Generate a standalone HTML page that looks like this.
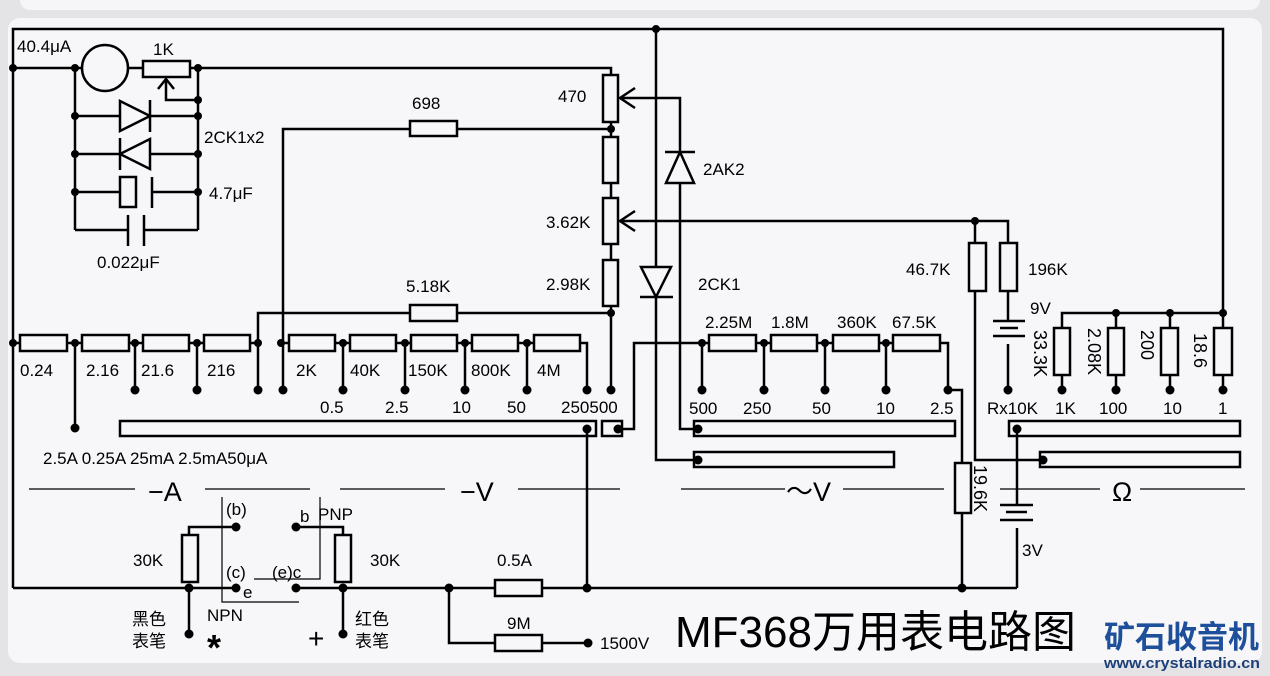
<!DOCTYPE html>
<html><head><meta charset="utf-8"><style>
html,body{margin:0;padding:0;background:#e4e4e6;}
svg{display:block}
text{font-family:"Liberation Sans","Noto Sans CJK SC",sans-serif;font-size:17px;fill:#000}
</style></head><body>
<svg width="1270" height="676" viewBox="0 0 1270 676" xmlns="http://www.w3.org/2000/svg">
<rect x="0" y="0" width="1270" height="676" fill="#e4e4e6"/>
<rect x="20" y="-20" width="1240" height="30" rx="10" fill="#f6f5f7"/>
<rect x="8" y="18" width="1254" height="645" rx="12" fill="#f7f6f8"/>
<g stroke="#000" stroke-width="2.5" fill="none">
<polyline points="13,588 13,29 1223,29 1223,313"/>
<line x1="13" y1="68" x2="82" y2="68"/>
<circle cx="105" cy="68" r="23"/>
<line x1="128" y1="68" x2="143" y2="68"/>
<rect x="143" y="61" width="47" height="16" fill="#f7f6f8"/>
<polyline points="190,68 611,68 611,75"/>
<polyline points="166,80 166,100 198,100"/>
<polyline points="158,89 166,79 174,89"/>
<line x1="75" y1="68" x2="75" y2="230"/>
<line x1="198" y1="68" x2="198" y2="230"/>
<line x1="75" y1="116" x2="120" y2="116"/><line x1="150" y1="116" x2="198" y2="116"/>
<polygon points="120,101 120,131 150,116"/><line x1="150" y1="100" x2="150" y2="132"/>
<line x1="75" y1="154" x2="120" y2="154"/><line x1="150" y1="154" x2="198" y2="154"/>
<polygon points="150,139 150,169 120,154"/><line x1="120" y1="138" x2="120" y2="170"/>
<line x1="75" y1="192" x2="120" y2="192"/><line x1="152" y1="192" x2="198" y2="192"/>
<rect x="120" y="177" width="16" height="30"/><line x1="152" y1="177" x2="152" y2="208"/>
<polyline points="75,230 128,230"/><polyline points="144,230 198,230"/>
<line x1="128" y1="215" x2="128" y2="246"/><line x1="144" y1="215" x2="144" y2="246"/>
<rect x="603" y="75" width="15" height="47" fill="#f7f6f8"/>
<line x1="611" y1="122" x2="611" y2="137"/>
<rect x="603" y="137" width="15" height="46" fill="#f7f6f8"/>
<line x1="611" y1="183" x2="611" y2="198"/>
<rect x="603" y="198" width="15" height="46" fill="#f7f6f8"/>
<line x1="611" y1="244" x2="611" y2="260"/>
<rect x="603" y="260" width="15" height="46" fill="#f7f6f8"/>
<line x1="611" y1="306" x2="611" y2="390"/>
<polyline points="680,152 680,98 620,98"/><polyline points="635,88 620,98 635,108"/>
<polyline points="975,222 975,460 1040,460"/>
<polyline points="620,221 1008,221 1008,243"/><polyline points="635,211 620,221 635,231"/>
<polyline points="283,390 283,129 410,129"/><rect x="410" y="121" width="47" height="15"/><line x1="457" y1="129" x2="611" y2="129"/>
<polyline points="258,390 258,313 410,313"/><rect x="410" y="305" width="47" height="16"/><line x1="457" y1="313" x2="611" y2="313"/>
<polygon points="680,152 666,183 694,183" /><line x1="665" y1="152" x2="695" y2="152"/>
<polyline points="680,183 680,429 695,429"/>
<line x1="656" y1="29" x2="656" y2="267"/>
<polygon points="641,267 671,267 656,297"/><line x1="640" y1="297" x2="673" y2="297"/>
<polyline points="656,297 656,460 695,460"/>
<line x1="13" y1="343" x2="20" y2="343"/>
<rect x="20" y="335" width="47" height="16"/><line x1="67" y1="343" x2="82" y2="343"/>
<rect x="82" y="335" width="47" height="16"/><line x1="129" y1="343" x2="143" y2="343"/>
<rect x="143" y="335" width="46" height="16"/><line x1="189" y1="343" x2="204" y2="343"/>
<rect x="204" y="335" width="46" height="16"/><line x1="250" y1="343" x2="258" y2="343"/>
<line x1="281" y1="343" x2="289" y2="343"/>
<rect x="289" y="335" width="46" height="16"/><line x1="335" y1="343" x2="350" y2="343"/>
<rect x="350" y="335" width="46" height="16"/><line x1="396" y1="343" x2="411" y2="343"/>
<rect x="411" y="335" width="46" height="16"/><line x1="457" y1="343" x2="472" y2="343"/>
<rect x="472" y="335" width="46" height="16"/><line x1="518" y1="343" x2="534" y2="343"/>
<rect x="534" y="335" width="46" height="16"/><polyline points="580,343 587,343 587,390"/>
<line x1="75" y1="343" x2="75" y2="428"/>
<line x1="135" y1="343" x2="135" y2="390"/><line x1="197" y1="343" x2="197" y2="390"/>
<line x1="343" y1="343" x2="343" y2="390"/><line x1="405" y1="343" x2="405" y2="390"/>
<line x1="465" y1="343" x2="465" y2="390"/><line x1="527" y1="343" x2="527" y2="390"/>
<rect x="120" y="421" width="476" height="15"/>
<rect x="602" y="421" width="20" height="15"/>
<polyline points="618,429 634,429 634,343 709,343"/>
<line x1="587" y1="429" x2="587" y2="588"/>
<rect x="709" y="335" width="47" height="16"/><line x1="756" y1="343" x2="771" y2="343"/>
<rect x="771" y="335" width="46" height="16"/><line x1="817" y1="343" x2="833" y2="343"/>
<rect x="833" y="335" width="46" height="16"/><line x1="879" y1="343" x2="893" y2="343"/>
<rect x="893" y="335" width="47" height="16"/><polyline points="940,343 948,343 948,390 962,390 962,463"/>
<line x1="702" y1="343" x2="702" y2="390"/><line x1="764" y1="343" x2="764" y2="390"/>
<line x1="825" y1="343" x2="825" y2="390"/><line x1="886" y1="343" x2="886" y2="390"/>
<rect x="694" y="421" width="261" height="15"/>
<rect x="694" y="452" width="200" height="15"/>
<rect x="955" y="463" width="16" height="50" fill="#f7f6f8"/>
<line x1="962" y1="513" x2="962" y2="588"/>
<rect x="969" y="243" width="17" height="48" fill="#f7f6f8"/>
<rect x="1000" y="243" width="17" height="48"/>
<line x1="1008" y1="291" x2="1008" y2="321"/>
<line x1="993" y1="321" x2="1025" y2="321"/><line x1="1000" y1="328" x2="1018" y2="328"/>
<line x1="993" y1="336" x2="1025" y2="336"/><line x1="1008" y1="344" x2="1008" y2="390"/>
<polyline points="1062,328 1062,313 1223,313"/>
<rect x="1054" y="328" width="16" height="47"/><line x1="1062" y1="375" x2="1062" y2="390"/>
<line x1="1116" y1="313" x2="1116" y2="328"/><rect x="1108" y="328" width="16" height="47"/><line x1="1116" y1="375" x2="1116" y2="390"/>
<line x1="1170" y1="313" x2="1170" y2="328"/><rect x="1161" y="328" width="17" height="47"/><line x1="1170" y1="375" x2="1170" y2="390"/>
<line x1="1223" y1="313" x2="1223" y2="328"/><rect x="1214" y="328" width="18" height="47"/><line x1="1223" y1="375" x2="1223" y2="390"/>
<rect x="1009" y="421" width="231" height="15"/>
<rect x="1040" y="452" width="200" height="15"/>
<line x1="1017" y1="429" x2="1017" y2="505"/>
<line x1="1000" y1="505" x2="1033" y2="505"/><line x1="1006" y1="512" x2="1027" y2="512"/>
<line x1="1000" y1="520" x2="1033" y2="520"/><line x1="1017" y1="528" x2="1017" y2="588"/>
<line x1="13" y1="588" x2="236" y2="588"/>
<line x1="296" y1="588" x2="1017" y2="588"/>
<rect x="182" y="535" width="16" height="47"/><polyline points="189,535 189,527 236,527"/>
<rect x="335" y="535" width="16" height="47"/><polyline points="343,535 343,527 296,527"/>
<line x1="189" y1="588" x2="189" y2="634"/><line x1="343" y1="588" x2="343" y2="634"/>
<rect x="495" y="580" width="47" height="16" fill="#f7f6f8"/>
<polyline points="449,588 449,643 495,643"/><rect x="495" y="635" width="47" height="16"/><line x1="542" y1="643" x2="588" y2="643"/>
<g stroke-width="1.2">
<polyline points="222,497 222,602 299,602"/><polyline points="320,497 320,579 254,579"/>
<line x1="29" y1="489" x2="135" y2="489"/><line x1="205" y1="489" x2="310" y2="489"/>
<line x1="340" y1="489" x2="445" y2="489"/><line x1="518" y1="489" x2="620" y2="489"/>
<line x1="681" y1="489" x2="785" y2="489"/><line x1="843" y1="489" x2="944" y2="489"/>
<line x1="1000" y1="489" x2="1100" y2="489"/><line x1="1140" y1="489" x2="1245" y2="489"/>
</g>
</g>
<g fill="#000">
<circle cx="13" cy="68" r="4"/><circle cx="75" cy="68" r="4"/><circle cx="198" cy="68" r="4"/><circle cx="198" cy="100" r="4"/>
<circle cx="75" cy="116" r="4"/><circle cx="198" cy="116" r="4"/><circle cx="75" cy="154" r="4"/><circle cx="198" cy="154" r="4"/>
<circle cx="75" cy="192" r="4"/><circle cx="198" cy="192" r="4"/><circle cx="656" cy="29" r="4"/>
<circle cx="611" cy="129" r="4"/><circle cx="611" cy="313" r="4"/><circle cx="975" cy="221" r="4"/>
<circle cx="13" cy="343" r="4"/><circle cx="75" cy="343" r="4"/><circle cx="135" cy="343" r="4"/><circle cx="197" cy="343" r="4"/><circle cx="258" cy="343" r="4"/><circle cx="281" cy="343" r="4"/>
<circle cx="343" cy="343" r="4"/><circle cx="405" cy="343" r="4"/><circle cx="465" cy="343" r="4"/><circle cx="527" cy="343" r="4"/>
<circle cx="75" cy="428" r="4.5"/>
<circle cx="135" cy="390" r="4.5"/><circle cx="197" cy="390" r="4.5"/><circle cx="258" cy="390" r="4.5"/><circle cx="283" cy="390" r="4.5"/><circle cx="343" cy="390" r="4.5"/>
<circle cx="405" cy="390" r="4.5"/><circle cx="465" cy="390" r="4.5"/><circle cx="527" cy="390" r="4.5"/><circle cx="587" cy="390" r="4.5"/><circle cx="611" cy="390" r="4.5"/>
<circle cx="587" cy="429" r="4.5"/><circle cx="618" cy="429" r="4.5"/><circle cx="698" cy="429" r="4.5"/><circle cx="698" cy="460" r="4.5"/>
<circle cx="702" cy="343" r="4"/><circle cx="764" cy="343" r="4"/><circle cx="825" cy="343" r="4"/><circle cx="886" cy="343" r="4"/>
<circle cx="702" cy="390" r="4.5"/><circle cx="764" cy="390" r="4.5"/><circle cx="825" cy="390" r="4.5"/><circle cx="886" cy="390" r="4.5"/><circle cx="948" cy="390" r="4.5"/>
<circle cx="1008" cy="390" r="4.5"/><circle cx="1062" cy="390" r="4.5"/><circle cx="1116" cy="390" r="4.5"/><circle cx="1170" cy="390" r="4.5"/><circle cx="1223" cy="390" r="4.5"/>
<circle cx="1116" cy="313" r="4"/><circle cx="1170" cy="313" r="4"/><circle cx="1223" cy="313" r="4"/>
<circle cx="1017" cy="429" r="4.5"/><circle cx="1043" cy="460" r="4.5"/>
<circle cx="236" cy="527" r="4.5"/><circle cx="296" cy="527" r="4.5"/>
<circle cx="189" cy="588" r="4.5"/><circle cx="236" cy="588" r="4.5"/><circle cx="296" cy="588" r="4.5"/><circle cx="343" cy="588" r="4.5"/>
<circle cx="449" cy="588" r="4.5"/><circle cx="587" cy="588" r="4.5"/><circle cx="962" cy="588" r="4.5"/>
<circle cx="189" cy="634" r="4.5"/><circle cx="343" cy="634" r="4.5"/><circle cx="588" cy="643" r="4.5"/>
</g>
<text x="17" y="52">40.4μA</text>
<text x="153" y="55">1K</text>
<text x="204" y="143">2CK1x2</text>
<text x="209" y="199">4.7μF</text>
<text x="97" y="268">0.022μF</text>
<text x="412" y="109">698</text>
<text x="558" y="102">470</text>
<text x="546" y="228">3.62K</text>
<text x="546" y="290">2.98K</text>
<text x="406" y="292">5.18K</text>
<text x="703" y="175">2AK2</text>
<text x="698" y="290">2CK1</text>
<text x="906" y="275">46.7K</text>
<text x="1028" y="275">196K</text>
<text x="1030" y="314">9V</text>
<text x="1022" y="556">3V</text>
<text transform="translate(1034,330) rotate(90)" style="font-size:18px">33.3K</text>
<text transform="translate(1088,328) rotate(90)" style="font-size:18px">2.08K</text>
<text transform="translate(1141,330) rotate(90)" style="font-size:18px">200</text>
<text transform="translate(1194,333) rotate(90)" style="font-size:18px">18.6</text>
<text transform="translate(974,465) rotate(90)" style="font-size:18px">19.6K</text>
<text x="20" y="376">0.24</text><text x="86" y="376">2.16</text><text x="141" y="376">21.6</text><text x="207" y="376">216</text>
<text x="296" y="376">2K</text><text x="350" y="376">40K</text><text x="408" y="376">150K</text><text x="471" y="376">800K</text><text x="537" y="376">4M</text>
<text x="320" y="413">0.5</text><text x="385" y="413">2.5</text><text x="452" y="413">10</text><text x="507" y="413">50</text><text x="561" y="413">250500</text>
<text x="43" y="464">2.5A 0.25A 25mA 2.5mA50μA</text>
<text x="705" y="328">2.25M</text><text x="771" y="328">1.8M</text><text x="837" y="328">360K</text><text x="892" y="328">67.5K</text>
<text x="689" y="414">500</text><text x="743" y="414">250</text><text x="812" y="414">50</text><text x="876" y="414">10</text><text x="930" y="414">2.5</text>
<text x="987" y="414">Rx10K</text><text x="1055" y="414">1K</text><text x="1099" y="414">100</text><text x="1163" y="414">10</text><text x="1218" y="414">1</text>
<text x="148" y="501" style="font-size:27px">−A</text>
<text x="460" y="501" style="font-size:27px">−V</text>
<text x="786" y="501" style="font-size:27px">～V</text>
<text x="1112" y="501" style="font-size:27px">Ω</text>
<text x="226" y="515">(b)</text><text x="300" y="522">b</text><text x="318" y="520">PNP</text>
<text x="133" y="566">30K</text><text x="370" y="566">30K</text>
<text x="226" y="578">(c)</text><text x="272" y="578">(e)c</text><text x="243" y="598">e</text>
<text x="497" y="566">0.5A</text><text x="507" y="629">9M</text><text x="600" y="649">1500V</text>
<text x="207" y="621">NPN</text>
<text x="207" y="660" style="font-size:36px;font-weight:bold">*</text>
<text x="308" y="648" style="font-size:28px">+</text>
<text x="132" y="625">黑色</text><text x="132" y="647">表笔</text><text x="355" y="625">红色</text><text x="355" y="647">表笔</text>
<text x="675" y="647" style="font-size:44px">MF368万用表电路图</text>
<text x="1104" y="648" style="font-size:31px;font-weight:bold;fill:#1d4f9a">矿石收音机</text>
<text x="1104" y="668" style="font-size:15px;font-weight:bold;fill:#1d3f7a" textLength="156" lengthAdjust="spacingAndGlyphs">www.crystalradio.cn</text>
</svg>
</body></html>
